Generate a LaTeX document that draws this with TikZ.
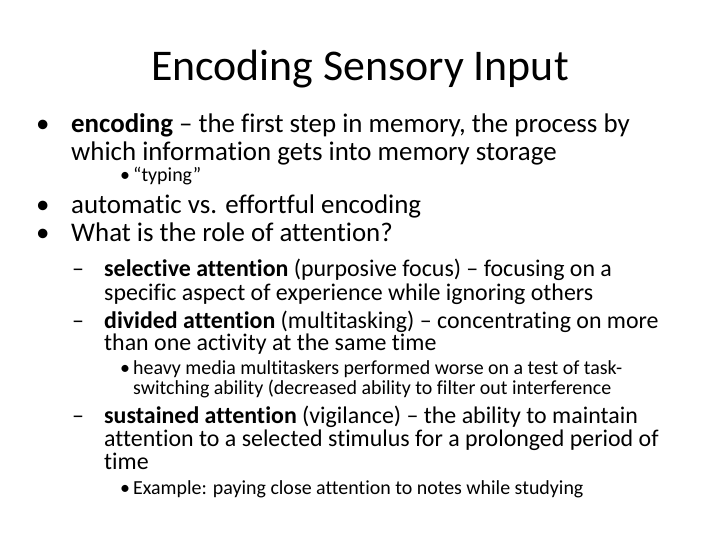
\documentclass[tikz,border=0pt]{standalone}
\usepackage{fontspec}
\setmainfont{Carlito}[Ligatures=NoCommon]
\begin{document}
\begin{tikzpicture}[x=1bp,y=-1bp,
  l/.style={anchor=base west,inner sep=0pt},
  big/.style={l,font=\fontsize{27}{30}\selectfont},
  mid/.style={l,font=\fontsize{24}{27}\selectfont},
  sml/.style={l,font=\fontsize{20}{22}\selectfont}]
\useasboundingbox (0,0) rectangle (720,540);
\node[anchor=base,inner sep=0pt,font=\fontsize{44}{50}\selectfont] (t) at (360,81) {Encoding Sensory Input};
\node[big] (b1) at (36,133) {•};
\node[big] (l1) at (71,133) {\textbf{encoding} – the first step in memory, the process by};
\node[big] (l2) at (71,161) {which information gets into memory storage};
\node[sml] (b2) at (120,182) {•};
\node[sml] (l3) at (133,182) {“typing”};
\node[big] (b3) at (36,214) {•};
\node[big] (l4) at (71,214) {automatic vs. effortful encoding};
\node[big] (b4) at (36,242) {•};
\node[big] (l5) at (71,242) {What is the role of attention?};
\node[mid] (d1) at (72,277) {–};
\node[mid] (l6) at (104,277) {\textbf{selective attention} (purposive focus) – focusing on a};
\node[mid] (l7) at (104,300) {specific aspect of experience while ignoring others};
\node[mid] (d2) at (72,328) {–};
\node[mid] (l8) at (104,328) {\textbf{divided attention} (multitasking) – concentrating on more};
\node[mid] (l9) at (104,350) {than one activity at the same time};
\node[sml] (b5) at (120,374) {•};
\node[sml] (l10) at (133,374) {heavy media multitaskers performed worse on a test of task-};
\node[sml] (l11) at (133,394) {switching ability (decreased ability to filter out interference};
\node[mid] (d3) at (72,423) {–};
\node[mid] (l12) at (104,423) {\textbf{sustained attention} (vigilance) – the ability to maintain};
\node[mid] (l13) at (104,446) {attention to a selected stimulus for a prolonged period of};
\node[mid] (l14) at (104,469) {time};
\node[sml] (b6) at (120,494) {•};
\node[sml] (l15) at (133,494) {Example: paying close attention to notes while studying};
\end{tikzpicture}
\end{document}
